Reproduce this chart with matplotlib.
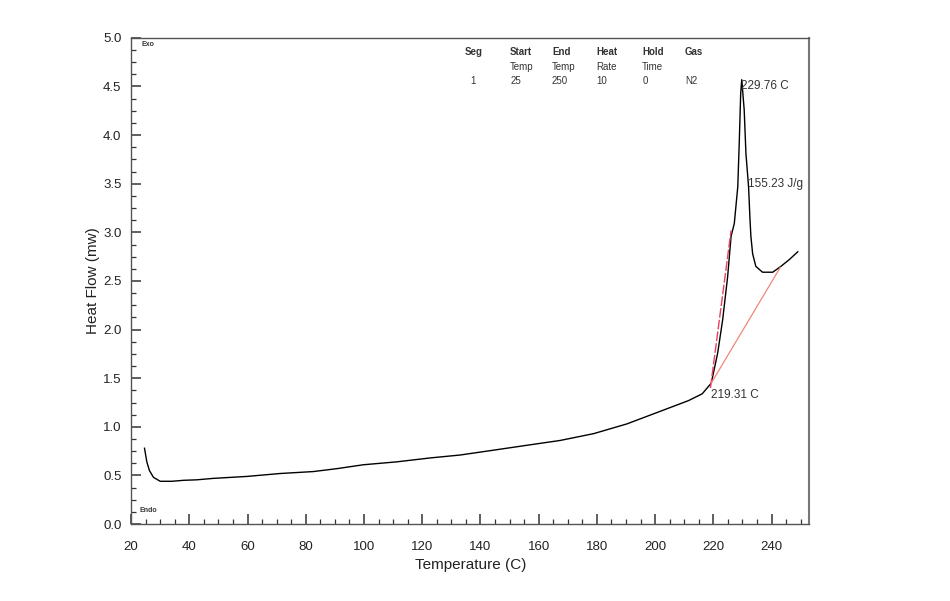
import numpy as np
import matplotlib
matplotlib.use('Agg')
import matplotlib.pyplot as plt
from matplotlib.ticker import MultipleLocator

plt.rcParams['font.family'] = ['Liberation Sans', 'DejaVu Sans']

# DSC heating curve
temp = [24.6, 25.4, 26.3, 27.7, 30.0, 34.0, 38.0, 42.5, 48.3, 59.8, 71.2, 82.6,
        90.7, 99.8, 111.3, 122.7, 133.0, 144.5, 155.9, 167.4, 178.9, 190.3,
        201.8, 211.5, 216.2, 219.3, 221.5, 223.2, 224.9, 226.1, 227.2, 228.4,
        228.9, 229.4, 229.76, 230.6, 231.2, 232.1, 232.6, 232.9, 233.5, 234.6,
        236.9, 240.4, 243.2, 246.1, 249.0]
heat_flow = [0.78, 0.64, 0.55, 0.48, 0.44, 0.44, 0.45, 0.455, 0.47, 0.49, 0.52,
             0.54, 0.57, 0.61, 0.64, 0.68, 0.71, 0.76, 0.81, 0.86, 0.93, 1.03,
             1.16, 1.27, 1.34, 1.45, 1.76, 2.10, 2.54, 2.96, 3.09, 3.47, 3.92,
             4.43, 4.57, 4.26, 3.81, 3.47, 3.13, 2.96, 2.78, 2.65, 2.59, 2.59,
             2.65, 2.72, 2.80]

# tangent constructions (red)
tangent_t = [219.0, 226.1]
tangent_v = [1.40, 3.02]
baseline_t = [219.3, 243.0]
baseline_v = [1.45, 2.64]

# method table
tbl_rows = [["Seg", "Start", "End", "Heat", "Hold", "Gas"],
            ["", "Temp", "Temp", "Rate", "Time", ""],
            ["1", "25", "250", "10", "0", "N2"]]

fig = plt.figure(figsize=(9.5, 6.01), dpi=100, facecolor='white')
ax = fig.add_axes([0.138, 0.128, 0.714, 0.809])

ax.plot(temp, heat_flow, color='black', lw=1.0)
ax.plot(tangent_t, tangent_v, color='#e8405e', lw=1.0, ls=(0, (7, 1.5)))
ax.plot(baseline_t, baseline_v, color='#f08878', lw=0.9)

ax.set_xlim(20, 253)
ax.set_ylim(0, 5)
ax.xaxis.set_major_locator(MultipleLocator(20))
ax.xaxis.set_minor_locator(MultipleLocator(5))
ax.yaxis.set_major_locator(MultipleLocator(0.5))
ax.yaxis.set_minor_locator(MultipleLocator(0.125))
ax.yaxis.set_major_formatter(matplotlib.ticker.FormatStrFormatter('%.1f'))
ax.tick_params(which='major', direction='in', length=7, width=1.1, colors='#333333',
               labelsize=9.5, labelcolor='#222222')
ax.tick_params(axis='y', which='major', pad=7)
ax.tick_params(axis='x', which='major', pad=12)
ax.tick_params(which='minor', direction='in', length=3.5, width=0.9, colors='#333333')
for sp in ax.spines.values():
    sp.set_color('#555555'); sp.set_linewidth(1.0)
ax.spines['right'].set_linewidth(1.5)
ax.spines['right'].set_color('#777777')

ax.set_xlabel('Temperature (C)', fontsize=11, color='#222222', labelpad=4)
ax.set_ylabel('Heat Flow (mw)', fontsize=11, color='#222222', labelpad=2)

# peak / enthalpy / onset labels
ax.text(229.4, 4.5, '229.76 C', fontsize=8.5, color='#333333', va='center', ha='left')
ax.text(231.8, 3.5, '155.23 J/g', fontsize=8.5, color='#333333', va='center', ha='left')
ax.text(219.3, 1.33, '219.31 C', fontsize=8.5, color='#333333', va='center', ha='left')

ax.text(23.5, 4.93, 'Exo', fontsize=5, color='#333333', va='center', weight='bold')
ax.text(23.0, 0.14, 'Endo', fontsize=5, color='#333333', va='center', weight='bold')

col_x = [0.489, 0.537, 0.581, 0.628, 0.676, 0.721]
row_y = [0.913, 0.888, 0.865]
for r, row in enumerate(tbl_rows):
    for c, txt in enumerate(row):
        x = col_x[c] + (0.006 if (r == 2 and c == 0) else 0)
        fig.text(x, row_y[r], txt, fontsize=7, color='#333333', va='center', ha='left',
                 weight='bold' if r == 0 else 'normal')

fig.savefig('out.png', dpi=100, facecolor='white')
